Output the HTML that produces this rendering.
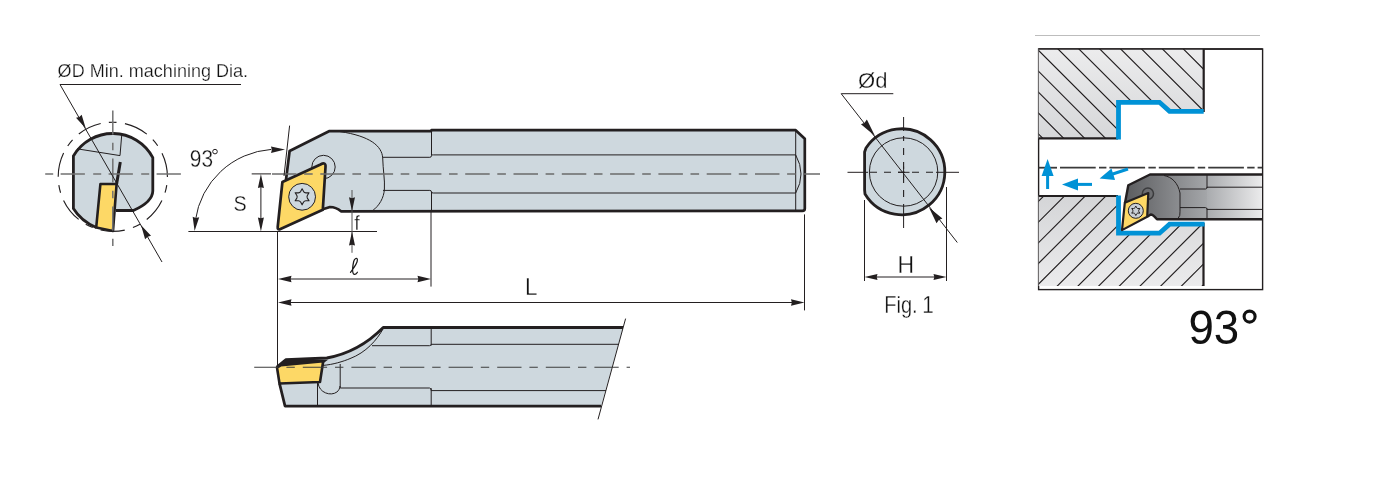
<!DOCTYPE html>
<html><head><meta charset="utf-8">
<style>
html,body{margin:0;padding:0;background:#fff;width:1400px;height:500px;overflow:hidden}
svg{display:block}
text{font-family:"Liberation Sans",sans-serif;fill:#111;-webkit-font-smoothing:antialiased}
</style></head>
<body>
<svg width="1400" height="500" viewBox="0 0 1400 500" style="will-change:transform">
<g id="leftview">
<path d="M73.4,156 A45.5,45.5 0 0 1 152.8,157.6 L152.8,191 Q152.5,202 133.4,210.5 L116,210.5 L113,231 L96.2,227.5 Q81,221 73.4,208 Z" fill="#ced8de"/>
<path d="M100.4,184 L116.6,184 L113,231 L96.2,227.5 Z" fill="#fdd866" stroke="#231f20" stroke-width="2.6" stroke-linejoin="round"/>
<path d="M96.2,227.5 Q81,221 73.4,208.5 L73.4,156 A45.5,45.5 0 0 1 152.8,157.6 L152.8,191 Q152.5,202 133.4,210.5 L116,210.5" stroke="#231f20" stroke-width="2.8" fill="none" stroke-linejoin="round"/>
<path d="M120.3,162 L116.6,184" stroke="#231f20" stroke-width="3" fill="none" />
<path d="M77,148.8 L120,155.6 L121.8,134" stroke="#231f20" stroke-width="1" fill="none" />
<circle cx="112.8" cy="176.8" r="54.6" fill="none" stroke="#231f20" stroke-width="1.15" stroke-dasharray="24.4 8.2 7.8 8.5" stroke-dashoffset="24.25"/>
<path d="M45.2,174 H181" stroke="#727272" stroke-width="1.5" fill="none" stroke-dasharray="8 7.4 24.3 8.3"/>
<path d="M112.8,110.5 V246" stroke="#727272" stroke-width="1.5" fill="none" stroke-dasharray="24 8.2 7.5 8.3"/>
<path d="M241,84.5 H60 L162,262" stroke="#231f20" stroke-width="1" fill="none" />
<path d="M85.80,128.40L76.02,117.87L79.26,116.98L81.66,114.64Z" fill="#231f20"/>
<path d="M141.10,225.30L151.01,235.76L147.64,236.72L145.11,239.14Z" fill="#231f20"/>
<text x="57.6" y="76.6" font-size="19" textLength="190.5" lengthAdjust="spacingAndGlyphs" stroke="#fff" stroke-width="0.25" >ØD Min. machining Dia.</text>
</g>
<g id="main">
<path d="M289.6,151 L329,131.2 L431,131.2 L431,130.2 L795.7,130.2 L804.8,138.8 L804.8,208.4 Q804.8,210.8 802.4,210.8 L341,211.5 L338,210 Q333,206 326,207.5 L322.8,209.8 L325,163 L282.4,182 L286,180 Z" fill="#ced8de"/>
<path d="M286,180 L289.6,151 L329,131.2 L431,131.2 L431.5,130.2 L795.7,130.2 L804.8,138.8 L804.8,208.4 Q804.8,210.8 802.4,210.8 L341,211.3 Q336,207 330,207 L323.6,209" stroke="#231f20" stroke-width="2.7" fill="none" stroke-linejoin="round"/>
<path d="M340,131.6 C370,136 382,146 382.7,158 C383,170 385,180 384.4,189 C384,198 379,206 372.4,210.8" stroke="#231f20" stroke-width="1" fill="none" />
<path d="M383,157.3 L429.8,157.3 Q431.5,157.3 431.5,155.6 L431.5,131 M431.5,155.2 Q431.5,154.9 433.3,154.9 L795.7,154.9" stroke="#231f20" stroke-width="1" fill="none" />
<path d="M383,190.4 L429.8,190.4 Q431.5,190.4 431.5,192 L431.5,211 M431.5,192 Q431.5,193 433.3,193 L795.7,193" stroke="#231f20" stroke-width="1" fill="none" />
<path d="M795.7,130.5 V210.5 M795.7,154.9 Q806.3,174 795.7,193" stroke="#231f20" stroke-width="1" fill="none" />
<circle cx="323.5" cy="167" r="11.7" fill="#ced8de" stroke="#231f20" stroke-width="1"/>
<path d="M320.5,164.5 Q326,161.5 325.5,167 L322.8,209.8 L280.5,229 Q277.3,230.5 277.7,227 L282.4,182 Z" fill="#fdd866" stroke="#231f20" stroke-width="2.7" stroke-linejoin="round"/>
<circle cx="302.1" cy="196.8" r="13.4" fill="#ced8de" stroke="#231f20" stroke-width="1"/>
<path d="M302.10,188.80L303.59,191.61Q304.40,192.82 305.85,192.92L309.03,192.80L307.34,195.49Q306.70,196.80 307.34,198.11L309.03,200.80L305.85,200.68Q304.40,200.78 303.59,201.99L302.10,204.80L300.61,201.99Q299.80,200.78 298.35,200.68L295.17,200.80L296.86,198.11Q297.50,196.80 296.86,195.49L295.17,192.80L298.35,192.92Q299.80,192.82 300.61,191.61Z" fill="#ced8de" stroke="#231f20" stroke-width="1.1" stroke-linejoin="round"/>
<path d="M272,174 H820" stroke="#6b6b6b" stroke-width="1.45" fill="none" stroke-dasharray="24.5 7.6 8.6 7.6"/>
<path d="M289.6,125.6 L284,176" stroke="#231f20" stroke-width="1" fill="none" />
<path d="M251.7,173.9 H271" stroke="#231f20" stroke-width="1" fill="none" />
<path d="M188.4,231.5 H377" stroke="#231f20" stroke-width="1" fill="none" />
<path d="M195.40,220.22 A82.5,82.5 0 0 1 271.35,149.40" stroke="#231f20" stroke-width="1" fill="none" />
<path d="M194.60,230.98L192.66,216.73L195.86,217.88L199.23,217.36Z" fill="#231f20"/>
<path d="M285.01,149.58L271.04,153.00L271.85,149.69L270.98,146.40Z" fill="#231f20"/>
<path d="M260.9,180 V225" stroke="#231f20" stroke-width="1" fill="none" />
<path d="M260.90,174.00L263.90,188.00L260.90,187.16L257.90,188.00Z" fill="#231f20"/>
<path d="M260.90,231.50L257.90,217.50L260.90,218.34L263.90,217.50Z" fill="#231f20"/>
<path d="M352,190 V252.8" stroke="#555" stroke-width="1" fill="none" />
<path d="M352.00,211.30L349.00,197.30L352.00,198.14L355.00,197.30Z" fill="#231f20"/>
<path d="M352.00,231.50L355.00,245.50L352.00,244.66L349.00,245.50Z" fill="#231f20"/>
<path d="M277.5,231 V365 M431,212 V286.6 M804.5,214.4 V310.4" stroke="#231f20" stroke-width="1" fill="none" />
<path d="M285,279 H424" stroke="#231f20" stroke-width="1" fill="none" />
<path d="M278.00,279.00L291.50,275.80L290.69,279.00L291.50,282.20Z" fill="#231f20"/>
<path d="M431.00,279.00L417.50,282.20L418.31,279.00L417.50,275.80Z" fill="#231f20"/>
<path d="M285,302.5 H798" stroke="#231f20" stroke-width="1" fill="none" />
<path d="M278.00,302.50L291.50,299.30L290.69,302.50L291.50,305.70Z" fill="#231f20"/>
<path d="M804.50,302.50L791.00,305.70L791.81,302.50L791.00,299.30Z" fill="#231f20"/>
<text x="189.8" y="166.8" font-size="24" textLength="23.2" lengthAdjust="spacingAndGlyphs" stroke="#fff" stroke-width="0.3" >93</text>
<circle cx="215" cy="151.6" r="2.3" fill="none" stroke="#231f20" stroke-width="1"/>
<text x="233.4" y="210.6" font-size="22.5" textLength="13.2" lengthAdjust="spacingAndGlyphs" stroke="#fff" stroke-width="0.3" >S</text>
<text x="354.2" y="230.4" font-size="21" textLength="5.6" lengthAdjust="spacingAndGlyphs" stroke="#fff" stroke-width="0.3" >f</text>
<path d="M350.5,272.3 C353.5,268.5 357.6,263 357.4,259.8 C357.2,257.3 354.4,258.2 353.7,261.5 C352.8,265.5 352.3,270 352.9,272.6 C353.5,275.2 356,274.6 357.4,272.2" stroke="#1a1a1a" stroke-width="1.25" fill="none" stroke-linecap="round"/>
<text x="525" y="295.2" font-size="23.5" textLength="12.5" lengthAdjust="spacingAndGlyphs" stroke="#fff" stroke-width="0.3" >L</text>
</g>
<g id="lower">
<path d="M383.2,327.6 L623,327.5 L601,406.2 L285,406 L279.5,383.5 L276.5,367 L286,358.5 L326.8,357.1 C346,354 365,346 383.2,327.6 Z" fill="#ced8de"/>
<path d="M623,327.5 L383.2,327.5 C365,346 346,354.5 326.8,358 L286,359.6 L276.8,367" stroke="#231f20" stroke-width="2.8" fill="none" stroke-linejoin="round"/>
<path d="M279.5,383.5 L285,406 L601,406.2" stroke="#231f20" stroke-width="2.8" fill="none" stroke-linejoin="round"/>
<path d="M286,359.6 L328,359.8 L321,365 L281,365 Z" fill="#231f20"/>
<path d="M281,365.2 L323.2,361.2 L320,382 L279.5,383.5 L277,367.5 Z" fill="#fdd866" stroke="#231f20" stroke-width="2.6" stroke-linejoin="round"/>
<path d="M383.2,328.6 C377,340 366,352.5 350,358.6 C343,361.5 333,364.6 323,365.4" stroke="#231f20" stroke-width="1" fill="none" />
<path d="M317.5,383 V406 M318,382.5 C319,396 339,398 340,386 M340.2,364 V388 H429.5 Q431.2,388 431.2,390.6 H606 M431.2,388.2 V406" stroke="#231f20" stroke-width="1" fill="none" />
<path d="M372,345.7 H429.5 Q431.2,345.7 431.2,344.3 H618.6 M431.2,327.5 V345.5" stroke="#231f20" stroke-width="1" fill="none" />
<path d="M625.6,318.6 L598,419.4" stroke="#231f20" stroke-width="1" fill="none" />
<path d="M254.2,367.2 H630" stroke="#3c3c3c" stroke-width="1.1" fill="none" stroke-dasharray="24.3 7.9 8.4 8"/>
</g>
<g id="fig1">
<path d="M866,148 A43,43 0 1 1 865,194 L864.6,190 V152 Z" fill="#ced8de" stroke="#231f20" stroke-width="2.8" stroke-linejoin="round"/>
<circle cx="903.6" cy="172" r="34.2" fill="none" stroke="#231f20" stroke-width="1"/>
<path d="M847.5,172.3 H868 M936,172.3 H959 M903.6,117 V131 M903.6,206 V228" stroke="#231f20" stroke-width="1" fill="none" />
<path d="M870,172.3 H936" stroke="#231f20" stroke-width="1.1" fill="none" stroke-dasharray="7 7" stroke-dashoffset="0"/>
<path d="M903.6,136 V206" stroke="#231f20" stroke-width="1.1" fill="none" stroke-dasharray="7 7" stroke-dashoffset="2"/>
<path d="M898,172.3 H909.5 M903.6,166.5 V178" stroke="#231f20" stroke-width="1" fill="none" />
<path d="M893.3,93.7 H841.2 L957.3,242.5" stroke="#231f20" stroke-width="1" fill="none" />
<path d="M875.00,136.00L860.96,124.13L864.58,122.67L866.87,119.51Z" fill="#231f20"/>
<path d="M929.00,207.50L942.42,218.58L938.84,220.09L936.52,223.20Z" fill="#231f20"/>
<path d="M864.5,200 V281 M946.5,187 V281" stroke="#231f20" stroke-width="1" fill="none" />
<path d="M870,277 H941" stroke="#231f20" stroke-width="1" fill="none" />
<path d="M864.50,277.00L877.50,274.00L876.72,277.00L877.50,280.00Z" fill="#231f20"/>
<path d="M946.50,277.00L933.50,280.00L934.28,277.00L933.50,274.00Z" fill="#231f20"/>
<text x="858" y="88" font-size="21.2" textLength="29.4" lengthAdjust="spacingAndGlyphs" stroke="#fff" stroke-width="0.3" >Ød</text>
<text x="897.4" y="272.8" font-size="23.2" textLength="16.6" lengthAdjust="spacingAndGlyphs" stroke="#fff" stroke-width="0.3" >H</text>
<text x="884.2" y="313" font-size="23.4" textLength="33.4" lengthAdjust="spacingAndGlyphs" stroke="#fff" stroke-width="0.3" >Fig.</text>
<text x="922.2" y="313" font-size="23.4" textLength="11.5" lengthAdjust="spacingAndGlyphs" stroke="#fff" stroke-width="0.3" >1</text>
</g>
<g id="panel">
  <defs>
    <linearGradient id="gup" x1="0" y1="0" x2="0" y2="1"><stop offset="0" stop-color="#ececed"/><stop offset="1" stop-color="#d6d7d9"/></linearGradient>
    <linearGradient id="glo" x1="0" y1="0" x2="0" y2="1"><stop offset="0" stop-color="#d4d5d7"/><stop offset="1" stop-color="#ebebec"/></linearGradient>
    <linearGradient id="ghead" gradientUnits="userSpaceOnUse" x1="1125" y1="0" x2="1207" y2="0"><stop offset="0" stop-color="#5b5c5f"/><stop offset="1" stop-color="#a4a6a9"/></linearGradient>
    <linearGradient id="gshank" gradientUnits="userSpaceOnUse" x1="1207" y1="0" x2="1262" y2="0"><stop offset="0" stop-color="#a9abae"/><stop offset="1" stop-color="#ebebec"/></linearGradient>
    <clipPath id="cup"><path d="M1038.6,49 H1203.7 V111.3 H1169.6 L1159.5,102 H1118.2 V138.4 H1038.6 Z"/></clipPath>
    <clipPath id="clo"><path d="M1038.6,195.6 H1118.2 V232.8 H1159.5 L1169.6,223.7 H1203.7 V286 H1038.6 Z"/></clipPath>
  </defs>
  <path d="M1035,35.5 H1260" stroke="#bdbdbd" stroke-width="1"/>
  <rect x="1038.6" y="49" width="224" height="240.6" fill="#fff" stroke="#231f20" stroke-width="1.4"/>
  <path d="M1038.6,49 H1203.7 V111.3 H1169.6 L1159.5,102 H1118.2 V138.4 H1038.6 Z" fill="url(#gup)"/>
  <path clip-path="url(#cup)" d="M1030,-250.7L1210,-70.7M1030,-229.8L1210,-49.8M1030,-208.9L1210,-28.9M1030,-188.0L1210,-8.0M1030,-167.1L1210,12.9M1030,-146.2L1210,33.8M1030,-125.3L1210,54.7M1030,-104.4L1210,75.6M1030,-83.5L1210,96.5M1030,-62.6L1210,117.4M1030,-41.7L1210,138.3M1030,-20.8L1210,159.2M1030,0.1L1210,180.1M1030,21.0L1210,201.0M1030,41.9L1210,221.9M1030,62.8L1210,242.8M1030,83.7L1210,263.7M1030,104.6L1210,284.6M1030,125.5L1210,305.5M1030,146.4L1210,326.4M1030,167.3L1210,347.3M1030,188.2L1210,368.2M1030,209.1L1210,389.1M1030,230.0L1210,410.0M1030,250.9L1210,430.9M1030,271.8L1210,451.8M1030,292.7L1210,472.7M1030,313.6L1210,493.6" stroke="#231f20" stroke-width="1.15" fill="none"/>
  <path d="M1038.6,195.6 H1118.2 V232.8 H1159.5 L1169.6,223.7 H1203.7 V286 H1038.6 Z" fill="url(#glo)"/>
  <path clip-path="url(#clo)" d="M1030,-80.0L1210,-260.0M1030,-59.3L1210,-239.3M1030,-38.6L1210,-218.6M1030,-17.9L1210,-197.9M1030,2.8L1210,-177.2M1030,23.5L1210,-156.5M1030,44.2L1210,-135.8M1030,64.9L1210,-115.1M1030,85.6L1210,-94.4M1030,106.3L1210,-73.7M1030,127.0L1210,-53.0M1030,147.7L1210,-32.3M1030,168.4L1210,-11.6M1030,189.1L1210,9.1M1030,209.8L1210,29.8M1030,230.5L1210,50.5M1030,251.2L1210,71.2M1030,271.9L1210,91.9M1030,292.6L1210,112.6M1030,313.3L1210,133.3M1030,334.0L1210,154.0M1030,354.7L1210,174.7M1030,375.4L1210,195.4M1030,396.1L1210,216.1M1030,416.8L1210,236.8M1030,437.5L1210,257.5M1030,458.2L1210,278.2M1030,478.9L1210,298.9" stroke="#231f20" stroke-width="1.15" fill="none"/>
  <path d="M1038.6,49 H1262.6" stroke="#231f20" stroke-width="1.6"/>
  <path d="M1203.7,49 V112 M1038.6,138.4 H1118" stroke="#231f20" stroke-width="2.2" fill="none"/>
  <path d="M1038.6,196 H1118 M1203.5,223 V286" stroke="#231f20" stroke-width="2.2" fill="none"/>
  <path d="M1118.5,139.6 V102.3 H1159.5 L1169.6,111.4 H1203.7" stroke="#0092d6" stroke-width="4.8" fill="none"/>
  <path d="M1118.5,195.6 V233.2 H1159.5 L1169.6,224.1 H1204.6" stroke="#0092d6" stroke-width="4.8" fill="none"/>
  <path d="M1038.6,167.7 H1057" stroke="#3a3a3a" stroke-width="1.8"/>
  <path d="M1060,167.7 H1262" stroke="#3a3a3a" stroke-width="1.8" stroke-dasharray="35.7 3.3 7.4 3"/>
  <path d="M1047.6,189 V172" stroke="#0092d6" stroke-width="3"/>
  <path d="M1047.6,159 L1053.6,176 L1041.6,176 Z" fill="#0092d6"/>
  <path d="M1092,184.4 H1075" stroke="#0092d6" stroke-width="3"/>
  <path d="M1062,184.4 L1078,178.4 L1078,190.4 Z" fill="#0092d6"/>
  <path d="M1128,169 L1112,174.2" stroke="#0092d6" stroke-width="3"/>
  <path d="M1099.6,178.6 L1111.5,168.5 L1115.1,180 Z" fill="#0092d6"/>
  <path d="M1128.3,185.3 L1150,174.5 H1207 V219 H1157 L1150.7,214 L1147.2,216.8 L1124.8,202.8 Z" fill="url(#ghead)"/>
  <path d="M1207,174.5 H1262 V219 H1207 Z" fill="url(#gshank)"/>
  <path d="M1164,175.5 C1172,177 1178,183 1180,193 V211.2 Q1180.5,216 1178,218.5" stroke="#231f20" stroke-width="1" fill="none"/>
  <path d="M1180,189 H1205.5 Q1207,189 1207,187.2 H1262 M1207,174.5 V188 M1180,207.6 H1205.5 Q1207,207.6 1207,209.4 H1262 M1207,208.6 V219" stroke="#231f20" stroke-width="1" fill="none"/>
  <path d="M1125,203 L1128.3,185.3 L1150,174.5 H1262 M1262,219.2 H1157 Q1153,214.5 1150.7,214.5 L1147.2,216.8" stroke="#231f20" stroke-width="2.4" fill="none" stroke-linejoin="round"/>
  <circle cx="1147.9" cy="193.7" r="5.6" fill="#6b6c6f" stroke="#3a3a3c" stroke-width="1.5"/>
  <path d="M1148.3,193 L1124.8,202.8 L1122,230.1 L1147.2,216.8 Z" fill="#fdd866" stroke="#231f20" stroke-width="2.2" stroke-linejoin="round"/>
  <circle cx="1135.8" cy="210.8" r="7.5" fill="#c9cfd5" stroke="#231f20" stroke-width="1"/>
  <path d="M1135.80,206.10L1136.66,207.79Q1137.13,208.49 1137.98,208.55L1139.87,208.45L1138.84,210.04Q1138.47,210.80 1138.84,211.56L1139.87,213.15L1137.98,213.05Q1137.13,213.11 1136.66,213.81L1135.80,215.50L1134.94,213.81Q1134.47,213.11 1133.62,213.05L1131.73,213.15L1132.76,211.56Q1133.13,210.80 1132.76,210.04L1131.73,208.45L1133.62,208.55Q1134.47,208.49 1134.94,207.79Z" fill="#c9cfd5" stroke="#231f20" stroke-width="1.0" stroke-linejoin="round"/>
</g>
<text x="1188.4" y="344.2" font-size="49" textLength="50.8" lengthAdjust="spacingAndGlyphs" >93</text>
<circle cx="1249.6" cy="316.6" r="5.5" fill="none" stroke="#111" stroke-width="3.1"/>
</svg>
</body></html>
